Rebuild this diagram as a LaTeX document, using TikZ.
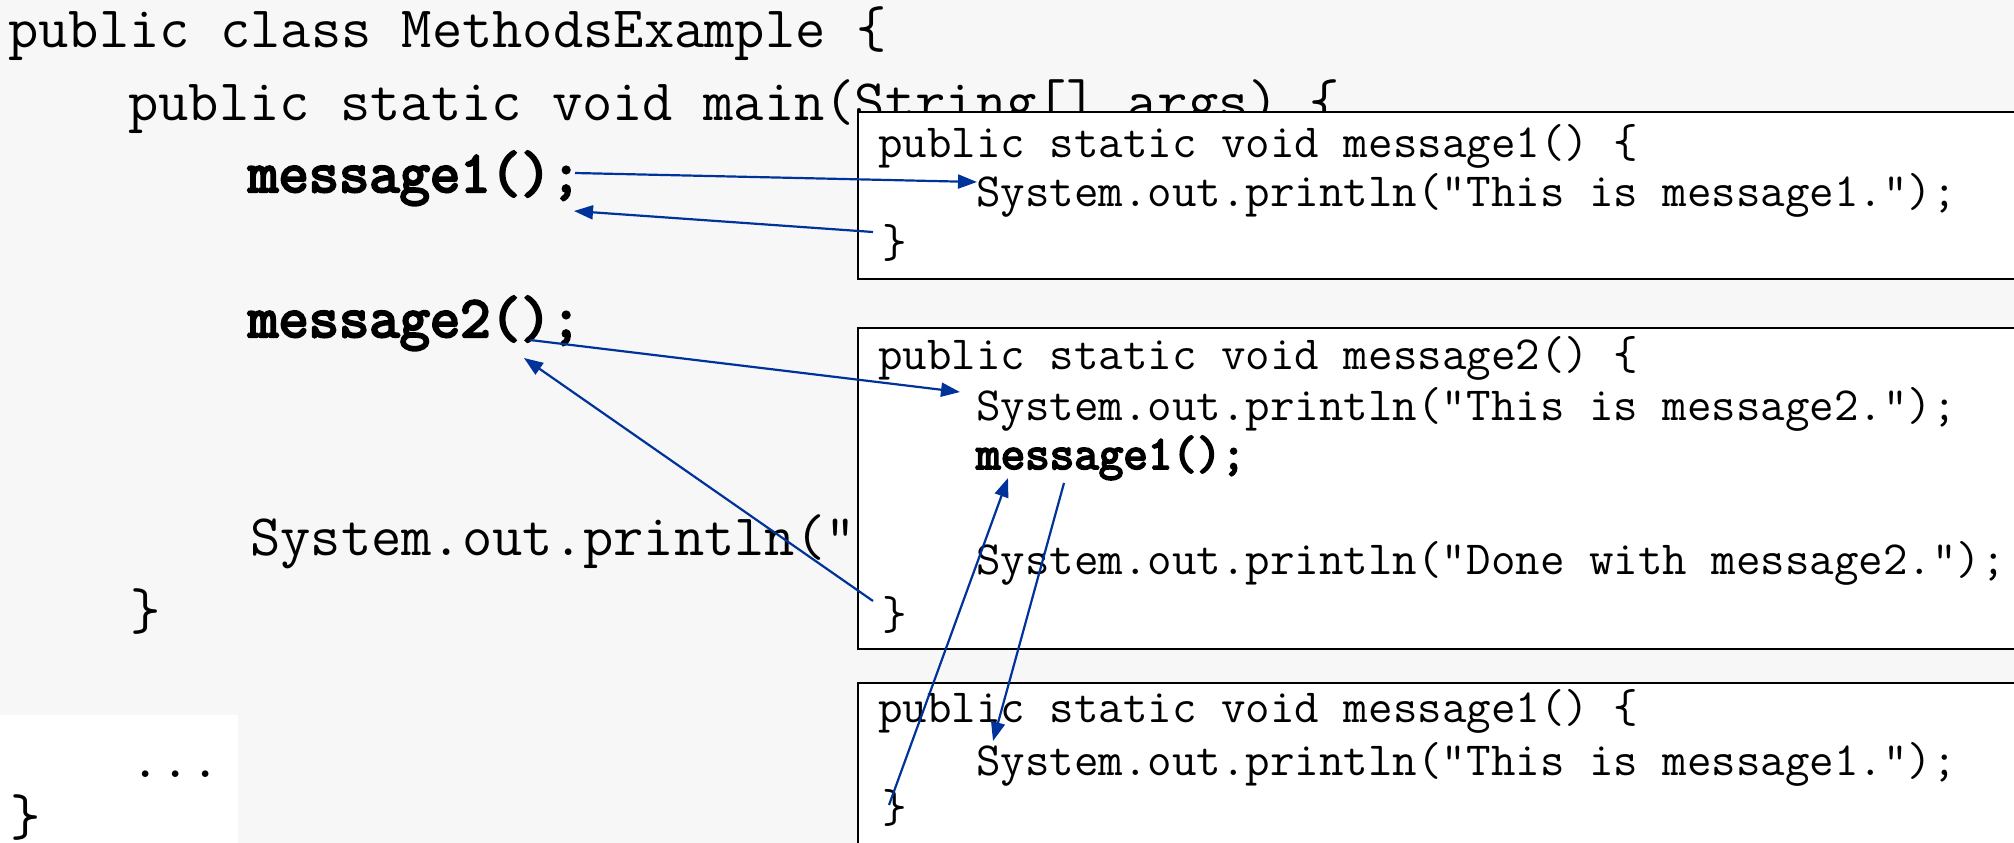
\documentclass[tikz,border=0pt]{standalone}
\usepackage{fontspec}
\newfontfamily\cbold[FakeBold=4]{Latin Modern Mono}
\usetikzlibrary{arrows.meta}
\definecolor{arr}{RGB}{0,51,153}
\definecolor{bg}{RGB}{247,247,247}
\begin{document}
\begin{tikzpicture}[x=1pt,y=-1pt,
  main/.style={anchor=base west, inner sep=0pt, font=\fontsize{58.8}{70}\selectfont\ttfamily},
  mainb/.style={anchor=base west, inner sep=0pt, font=\fontsize{58.8}{70}\selectfont\cbold},
  code/.style={anchor=base west, inner sep=0pt, font=\fontsize{47.6}{57}\selectfont\ttfamily},
  codeb/.style={anchor=base west, inner sep=0pt, font=\fontsize{47.6}{57}\selectfont\cbold},
  frame/.style={draw=black, line width=2pt, fill=white},
  flow/.style={draw=arr, line width=2.2pt, -{Triangle[length=19pt,width=14pt]}}]
\useasboundingbox (0,0) rectangle (2014,843);
\fill[bg] (0,0) rectangle (2014,843);
\fill[white] (0,715) rectangle (238,843);
% main program
\node[main] (l1) at (8,48) {public class MethodsExample \{};
\node[main] (l2) at (128,120) {public static void main(String[] args) \{};
\node[mainb] (mc1) at (248,192) {message1();};
\node[mainb] (mc2) at (248,337) {message2();};
\node[main] (pr) at (250,555) {System.out.println("};
\node[main] (c1) at (130,629) {\}};
\node[main] (dots) at (130,777) {...};
\node[main] (c2) at (10,835) {\}};
% box 1
\draw[frame] (858,112) rectangle (2030,279);
\node[code] (b1a) at (878,157) {public static void message1() \{};
\node[code] (b1b) at (976,206) {System.out.println("This is message1.");};
\node[code] (b1c) at (882,257) {\}};
% box 2
\draw[frame] (858,328) rectangle (2030,649);
\node[code] (b2a) at (878,369) {public static void message2() \{};
\node[code] (b2b) at (976,420) {System.out.println("This is message2.");};
\node[codeb] (b2m) at (976,469) {message1();};
\node[code] (b2c) at (976,574) {System.out.println("Done with message2.");};
\node[code] (b2d) at (882,629) {\}};
% box 3
\draw[frame] (858,683) rectangle (2030,860);
\node[code] (b3a) at (878,722) {public static void message1() \{};
\node[code] (b3b) at (976,775) {System.out.println("This is message1.");};
\node[code] (b3c) at (882,822) {\}};
% connector ends
\coordinate (p1s) at (575,173);
\coordinate (p1e) at (977,182);
\coordinate (p2s) at (873,232);
\coordinate (p2e) at (574,211);
\coordinate (p3s) at (530,340);
\coordinate (p3e) at (960,392);
\coordinate (p4s) at (873,601);
\coordinate (p4e) at (524,358);
\coordinate (p5s) at (1064,483);
\coordinate (p5e) at (993,741);
\coordinate (p6s) at (889,805);
\coordinate (p6e) at (1008,478);
\draw[flow] (p1s) -- (p1e);
\draw[flow] (p2s) -- (p2e);
\draw[flow] (p3s) -- (p3e);
\draw[flow] (p4s) -- (p4e);
\draw[flow] (p5s) -- (p5e);
\draw[flow] (p6s) -- (p6e);
\end{tikzpicture}
\end{document}
